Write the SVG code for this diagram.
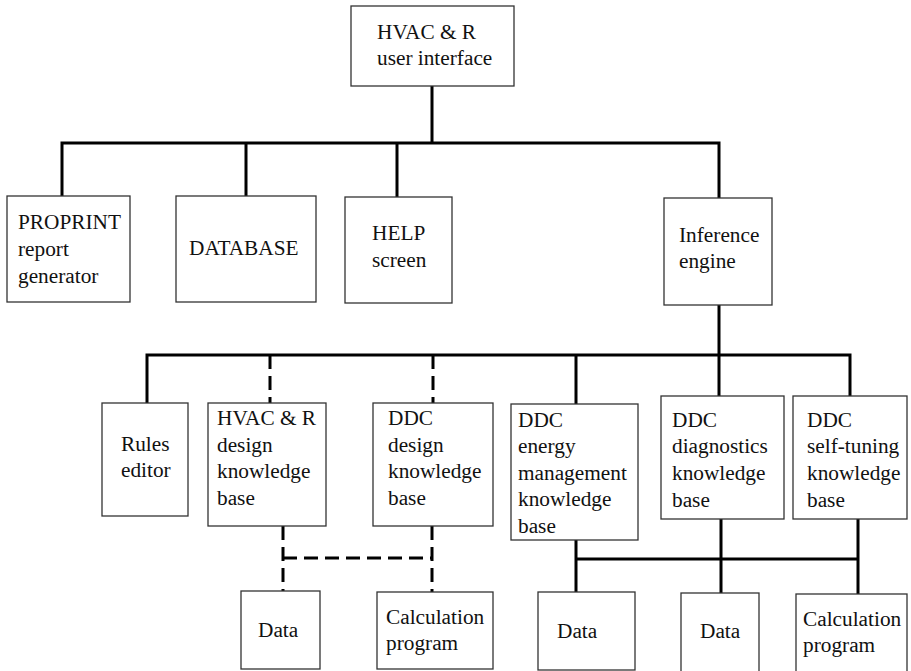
<svg xmlns="http://www.w3.org/2000/svg" width="911" height="671" viewBox="0 0 911 671">
<style>
.box{fill:#fff;stroke:#333;stroke-width:1.3}
.t{font-family:"Liberation Serif","Times New Roman",serif;font-size:21.3px;fill:#111}
.c{fill:none;stroke:#000;stroke-width:3}
.d{fill:none;stroke:#000;stroke-width:3;stroke-dasharray:14,7}
</style>
<rect width="911" height="671" fill="#fff"/>
<g id="connectors">
<path class="c" d="M432 86V143M62 196V143H719V198M246 143V196M397 143V197"/>
<path class="c" d="M719 305V355M147 403V355H850V396M576 355V404M719 355V396"/>
<path class="d" d="M270 355V403M433 355V403"/>
<path class="d" d="M283 526V591M283 558H432M432 526V592"/>
<path class="c" d="M576 540V592M576 559H858M721 519V593M858 519V594"/>
</g>
<g id="ui"><rect class="box" x="351" y="6" width="163" height="80"/><text class="t" x="377" y="39">HVAC &amp; R</text><text class="t" x="377" y="65">user interface</text></g>
<g id="proprint"><rect class="box" x="7" y="196" width="123" height="106"/><text class="t" x="18" y="229">PROPRINT</text><text class="t" x="18" y="256">report</text><text class="t" x="18" y="283">generator</text></g>
<g id="database"><rect class="box" x="176" y="196" width="140" height="106"/><text class="t" x="189" y="255">DATABASE</text></g>
<g id="help"><rect class="box" x="345" y="197" width="107" height="106"/><text class="t" x="372" y="240">HELP</text><text class="t" x="372" y="267">screen</text></g>
<g id="inference"><rect class="box" x="664" y="198" width="108" height="107"/><text class="t" x="679" y="242">Inference</text><text class="t" x="679" y="268">engine</text></g>
<g id="rules"><rect class="box" x="102" y="403" width="86" height="113"/><text class="t" x="121" y="451">Rules</text><text class="t" x="121" y="477">editor</text></g>
<g id="hvackb"><rect class="box" x="208" y="403" width="118" height="123"/><text class="t" x="217" y="425">HVAC &amp; R</text><text class="t" x="217" y="452">design</text><text class="t" x="217" y="478">knowledge</text><text class="t" x="217" y="505">base</text></g>
<g id="ddcdesign"><rect class="box" x="373" y="403" width="120" height="123"/><text class="t" x="388" y="425">DDC</text><text class="t" x="388" y="452">design</text><text class="t" x="388" y="478">knowledge</text><text class="t" x="388" y="505">base</text></g>
<g id="ddcenergy"><rect class="box" x="511" y="404" width="127" height="136"/><text class="t" x="518" y="427">DDC</text><text class="t" x="518" y="453">energy</text><text class="t" x="518" y="480">management</text><text class="t" x="518" y="506">knowledge</text><text class="t" x="518" y="533">base</text></g>
<g id="ddcdiag"><rect class="box" x="661" y="396" width="123" height="123"/><text class="t" x="672" y="427">DDC</text><text class="t" x="672" y="453">diagnostics</text><text class="t" x="672" y="480">knowledge</text><text class="t" x="672" y="507">base</text></g>
<g id="ddcself"><rect class="box" x="793" y="396" width="114" height="123"/><text class="t" x="807" y="427">DDC</text><text class="t" x="807" y="453">self-tuning</text><text class="t" x="807" y="480">knowledge</text><text class="t" x="807" y="507">base</text></g>
<g id="data1"><rect class="box" x="241" y="591" width="79" height="78"/><text class="t" x="258" y="637">Data</text></g>
<g id="calc1"><rect class="box" x="377" y="592" width="116" height="77"/><text class="t" x="386" y="624">Calculation</text><text class="t" x="386" y="650">program</text></g>
<g id="data2"><rect class="box" x="538" y="592" width="97" height="78"/><text class="t" x="557" y="638">Data</text></g>
<g id="data3"><rect class="box" x="681" y="593" width="78" height="80"/><text class="t" x="700" y="638">Data</text></g>
<g id="calc2"><rect class="box" x="796" y="594" width="111" height="80"/><text class="t" x="803" y="626">Calculation</text><text class="t" x="803" y="652">program</text></g>
</svg>
